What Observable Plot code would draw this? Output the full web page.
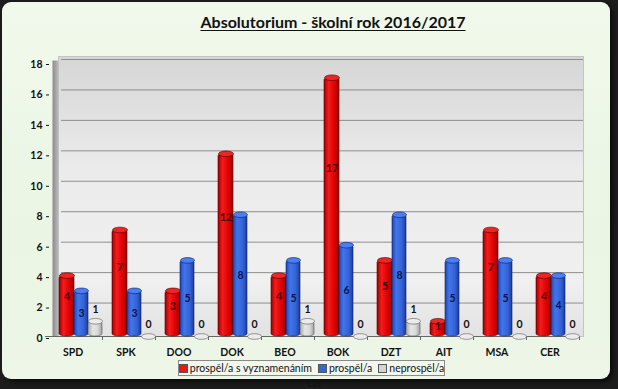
<!DOCTYPE html>
<html>
<head>
<meta charset="utf-8">
<script src="https://cdn.jsdelivr.net/npm/d3@7"></script>
<script src="https://cdn.jsdelivr.net/npm/@observablehq/plot@0.6"></script>
<style>
  html, body { margin: 0; padding: 0; }
  body { width: 618px; height: 389px; background: #1c1c1c; overflow: hidden; position: relative;
         font-family: Lato, "Open Sans", sans-serif; }
  #panel { position: absolute; left: 2px; top: 2px; width: 608px; height: 377px; border-radius: 9px;
           background: linear-gradient(180deg, #f1f9ec 0%, #eaf5e3 60%, #edf6e7 100%);
           box-shadow: 3px 3px 4px rgba(0,0,0,0.6); }
  #title { position: absolute; left: 333px; top: 12px; transform: translateX(-50%); white-space: nowrap;
           font-weight: bold; font-size: 16px; color: #111; text-decoration: underline; text-underline-offset: 2px; }
  #chart { position: absolute; left: 0; top: 0; }
  #legend { position: absolute; left: 178px; top: 360px; width: 267px; height: 16px; box-sizing: border-box;
            border: 1px solid #8a8a8a; background: #f3f8ef; display: flex; align-items: center; justify-content: center;
            gap: 6px; font-size: 10.5px; color: #111; }
  .item { display: flex; align-items: center; gap: 2px; white-space: nowrap; }
  .sw { width: 7px; height: 7px; border: 1px solid #555; display: inline-block; }
</style>
</head>
<body>
<div id="panel"></div>
<div id="title">Absolutorium - školní rok 2016/2017</div>
<div id="chart"></div>
<div id="legend"></div>
<script>
const categories = ["SPD", "SPK", "DOO", "DOK", "BEO", "BOK", "DZT", "AIT", "MSA", "CER"];
const vyznamenani = [4, 7, 3, 12, 4, 17, 5, 1, 7, 4];
const prospel = [3, 3, 5, 8, 5, 6, 8, 5, 5, 4];
const neprospel = [1, 0, 0, 0, 1, 0, 1, 0, 0, 0];
const seriesNames = ["prospěl/a s vyznamenáním", "prospěl/a", "neprospěl/a"];
const seriesColors = ["#e41a1a", "#3564dc", "#d4d4d4"];
const yTicks = [0, 2, 4, 6, 8, 10, 12, 14, 16, 18];

const data = categories.map((c, i) => ({cat: c, red: vyznamenani[i], blue: prospel[i], grey: neprospel[i]}));

function ellipse(rx, ry) {
  const k = 0.5523;
  return {draw(ctx) {
    ctx.moveTo(rx, 0);
    ctx.bezierCurveTo(rx, ry * k, rx * k, ry, 0, ry);
    ctx.bezierCurveTo(-rx * k, ry, -rx, ry * k, -rx, 0);
    ctx.bezierCurveTo(-rx, -ry * k, -rx * k, -ry, 0, -ry);
    ctx.bezierCurveTo(rx * k, -ry, rx, -ry * k, rx, 0);
    ctx.closePath();
  }};
}

const font = 'Lato, "Open Sans", sans-serif';

const chart = Plot.plot({
  width: 618,
  height: 389,
  marginTop: 62,
  marginBottom: 53,
  marginLeft: 49,
  marginRight: 39,
  style: {background: "transparent", fontFamily: font, fontSize: "10.5px", color: "#111"},
  x: {domain: categories, type: "band", padding: 0},
  y: {domain: [0, 18], ticks: yTicks},
  marks: [
    Plot.frame({fill: "url(#wall)", stroke: "#c4c4c4", insetLeft: 9, insetRight: -4, insetTop: -6}),
    Plot.frame({fill: "url(#side)", stroke: "none", insetLeft: 3, insetRight: 521, insetTop: -2}),
    Plot.ruleY(yTicks.filter(t => t > 0), {stroke: "#8e8e8e", strokeWidth: 1, insetLeft: 12, insetRight: -4, dy: -3}),
    Plot.ruleY([0], {stroke: "#666", insetLeft: -4, insetRight: 4}),
    Plot.axisY({ticks: yTicks, tickSize: 3, tickPadding: 4, fontWeight: "bold", label: null, dy: 2}),
    Plot.axisX({tickSize: 4, text: null, dx: 26.5, stroke: "#666"}),
    Plot.axisX({tickSize: 0, tickPadding: 12, fontWeight: "bold", label: null, dx: -3}),
    // red series
    Plot.barY(data, {x: "cat", y: "red", insetLeft: 10, insetRight: 28, fill: "url(#gRed)", stroke: "#4a0000", strokeWidth: 0.6, rx: 7.5, ry: 2.5}),
    Plot.dot(data, {x: "cat", y: "red", dx: -9, symbol: ellipse(7.5, 2.8), fill: "#f02424", stroke: "#4a0000", strokeWidth: 0.6}),
    // blue series
    Plot.barY(data, {x: "cat", y: "blue", insetLeft: 25, insetRight: 14, fill: "url(#gBlue)", stroke: "#0b1d5c", strokeWidth: 0.6, rx: 7, ry: 2.5}),
    Plot.dot(data, {x: "cat", y: "blue", dx: 5.5, symbol: ellipse(7, 2.8), fill: "#4a7ef2", stroke: "#0b1d5c", strokeWidth: 0.6}),
    // grey series
    Plot.barY(data, {x: "cat", y: "grey", insetLeft: 39, insetRight: 0, fill: "url(#gGrey)", stroke: "#555", strokeWidth: 0.6, rx: 7, ry: 2.5}),
    Plot.dot(data, {x: "cat", y: "grey", dx: 19.5, symbol: ellipse(7, 2.8), fill: "#ececec", stroke: "#555", strokeWidth: 0.6}),
    // value labels
    Plot.text(data, {x: "cat", y: d => d.red * 0.65, text: d => String(d.red), dx: -9, fill: "#3a0000", fontWeight: "bold", fontSize: 10.5}),
    Plot.text(data, {x: "cat", y: d => d.blue * 0.5, text: d => String(d.blue), dx: 5.5, fill: "#0a1450", fontWeight: "bold", fontSize: 10.5}),
    Plot.text(data, {x: "cat", y: "grey", text: d => String(d.grey), dx: 19.5, dy: -12, fill: "#111", fontWeight: "bold", fontSize: 10.5})
  ]
});

d3.select(chart).insert("defs", ":first-child").html(`
  <linearGradient id="wall" x1="0" y1="0" x2="0" y2="1">
    <stop offset="0" stop-color="#d6d6d6"/>
    <stop offset="0.4" stop-color="#ebebeb"/>
    <stop offset="0.8" stop-color="#f0f0f0"/>
    <stop offset="1" stop-color="#e2e2e2"/>
  </linearGradient>
  <linearGradient id="side" x1="0" y1="0" x2="1" y2="0">
    <stop offset="0" stop-color="#8a8a8a"/>
    <stop offset="1" stop-color="#bdbdbd"/>
  </linearGradient>
  <linearGradient id="gRed" x1="0" y1="0" x2="1" y2="0">
    <stop offset="0" stop-color="#a00000"/>
    <stop offset="0.3" stop-color="#f21c1c"/>
    <stop offset="0.7" stop-color="#e00000"/>
    <stop offset="1" stop-color="#9a0000"/>
  </linearGradient>
  <linearGradient id="gBlue" x1="0" y1="0" x2="1" y2="0">
    <stop offset="0" stop-color="#1f46b0"/>
    <stop offset="0.3" stop-color="#4275ea"/>
    <stop offset="0.7" stop-color="#3462d8"/>
    <stop offset="1" stop-color="#1c3d9c"/>
  </linearGradient>
  <linearGradient id="gGrey" x1="0" y1="0" x2="1" y2="0">
    <stop offset="0" stop-color="#a8a8a8"/>
    <stop offset="0.35" stop-color="#e6e6e6"/>
    <stop offset="0.7" stop-color="#d8d8d8"/>
    <stop offset="1" stop-color="#a0a0a0"/>
  </linearGradient>`);

document.getElementById("chart").appendChild(chart);

const legend = d3.select("#legend");
seriesNames.forEach((name, i) => {
  const item = legend.append("span").attr("class", "item");
  item.append("span").attr("class", "sw").style("background", seriesColors[i]);
  item.append("span").text(name);
});
</script>
</body>
</html>
